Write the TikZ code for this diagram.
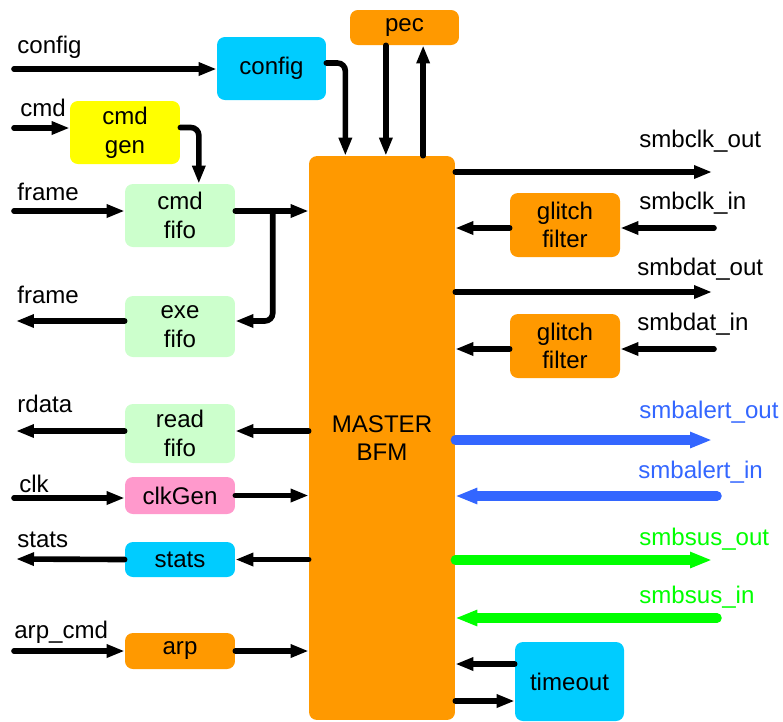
\documentclass[tikz,border=0pt]{standalone}
\usepackage{fontspec}
\setmainfont{Liberation Sans}
\usepackage{xcolor}
\usepackage{tikz}
\usetikzlibrary{arrows.meta, positioning, calc}
\definecolor{bfmorange}{HTML}{FF9900}
\definecolor{cfgcyan}{HTML}{00CCFF}
\definecolor{genyellow}{HTML}{FFFF00}
\definecolor{fifogreen}{HTML}{CCFFCC}
\definecolor{clkpink}{HTML}{FF99CC}
\definecolor{alertblue}{HTML}{3366FF}
\definecolor{susgreen}{HTML}{00FF00}
\tikzset{
  unitbox/.style={
    rectangle, rounded corners=4.5pt, align=center, inner sep=0pt,
    font=\fontsize{13.7pt}{16.3pt}\selectfont, minimum width=2.2cm
  },
  sigarrow/.style={
    -{Triangle[length=3.6mm, width=2.5mm]}, line width=3.2pt, line cap=round
  },
  busarrow/.style={
    -{Triangle[length=4.4mm, width=3mm]}, line width=5.4pt, line cap=round
  },
  siglabel/.style={
    anchor=base west, inner sep=0pt, font=\fontsize{13.7pt}{16.3pt}\selectfont
  },
}

\begin{document}
\begin{tikzpicture}[x=0.02cm, y=-0.02cm]
  \useasboundingbox (0,0) rectangle (783,721);

  % === Master BFM ===
  \node[unitbox, fill=bfmorange, minimum width=2.92cm, minimum height=11.28cm] (bfm) at (382,438) {MASTER\\BFM};

  % === Top blocks ===
  \node[unitbox, fill=bfmorange, minimum width=2.18cm, minimum height=0.7cm] (pec) at (404.5,27.5) {pec};
  \node[unitbox, fill=cfgcyan, minimum width=2.18cm, minimum height=1.26cm] (config) at (271.5,68.5) {config};
  \node[unitbox, fill=genyellow, minimum height=1.26cm] (cmdgen) at (125,132.5) {cmd\\gen};

  % === Left blocks ===
  \node[unitbox, fill=fifogreen, minimum height=1.26cm] (cmdfifo) at (180,215.5) {cmd\\fifo};
  \node[unitbox, fill=fifogreen, minimum height=1.22cm] (exefifo) at (180,326.5) {exe\\fifo};
  \node[unitbox, fill=fifogreen, minimum height=1.18cm] (readfifo) at (180,433.5) {read\\fifo};
  \node[unitbox, fill=clkpink, minimum height=0.74cm] (clkgen) at (180,495.5) {clkGen};
  \node[unitbox, fill=cfgcyan, minimum height=0.7cm] (stats) at (180,559.5) {stats};
  \node[unitbox, fill=bfmorange, minimum height=0.72cm] (arp) at (180,651) {arp};

  % === Right blocks ===
  \node[unitbox, fill=bfmorange, minimum height=1.28cm] (glitchclk) at (565,225) {glitch\\filter};
  \node[unitbox, fill=bfmorange, minimum height=1.28cm] (glitchdat) at (565,346) {glitch\\filter};
  \node[unitbox, fill=cfgcyan, minimum width=2.18cm, minimum height=1.58cm] (timeout) at (569.5,681.5) {timeout};

  % === Free ends ===
  \coordinate (cfgin) at (14,69);
  \coordinate (cmdin) at (14,128);
  \coordinate (framein) at (14,211);
  \coordinate (frameout) at (16,321);
  \coordinate (rdataout) at (16,431);
  \coordinate (clkin) at (14,498);
  \coordinate (statsout) at (16,559);
  \coordinate (arpin) at (14,651);
  \coordinate (sclkout) at (712,172);
  \coordinate (sclkin) at (714,228);
  \coordinate (sdatout) at (712,292);
  \coordinate (sdatin) at (714,349);
  \coordinate (saltout) at (712,440);
  \coordinate (saltin) at (717,496);
  \coordinate (ssusout) at (712,560);
  \coordinate (ssusin) at (717,618);

  % === Labels ===
  \node[siglabel] (lblconfig) at (17,53) {config};
  \node[siglabel] (lblcmd) at (20,116) {cmd};
  \node[siglabel] (lblframein) at (17,200) {frame};
  \node[siglabel] (lblframeout) at (17,303) {frame};
  \node[siglabel] (lblrdata) at (17,412) {rdata};
  \node[siglabel] (lblclk) at (19,492) {clk};
  \node[siglabel] (lblstats) at (17,547) {stats};
  \node[siglabel] (lblarp) at (14,638) {arp\_cmd};
  \node[siglabel] (lblsclkout) at (639,147) {smbclk\_out};
  \node[siglabel] (lblsclkin) at (639,209) {smbclk\_in};
  \node[siglabel] (lblsdatout) at (637,275) {smbdat\_out};
  \node[siglabel] (lblsdatin) at (637,330) {smbdat\_in};
  \node[siglabel, text=alertblue] (lblsaltout) at (639,418) {smbalert\_out};
  \node[siglabel, text=alertblue] (lblsaltin) at (638,478) {smbalert\_in};
  \node[siglabel, text=susgreen] (lblssusout) at (639,545) {smbsus\_out};
  \node[siglabel, text=susgreen] (lblssusin) at (639,603) {smbsus\_in};

  % === Top connections ===
  \coordinate (cfgdrop) at ($(bfm.north west)!0.25!(bfm.north east)$);
  \coordinate (pecdown) at ($(pec.south west)!0.33!(pec.south east)$);
  \coordinate (pecup) at ($(pec.south west)!0.67!(pec.south east)$);
  \draw[sigarrow] (cfgin) -- (config.west |- cfgin);
  \draw[sigarrow, rounded corners=4.5pt] ([yshift=0.11cm]config.east) -| (cfgdrop);
  \draw[sigarrow] (pecdown) -- (pecdown |- bfm.north);
  \draw[sigarrow] (pecup |- bfm.north) -- (pecup);
  \draw[sigarrow] (cmdin) -- (cmdgen.west |- cmdin);
  \draw[sigarrow, rounded corners=4.5pt] ([yshift=0.1cm]cmdgen.east) -| ($(cmdfifo.north west)!0.67!(cmdfifo.north east)$);

  % === Left connections ===
  \draw[sigarrow] (framein) -- (cmdfifo.west |- framein);
  \draw[sigarrow] (cmdfifo.east |- framein) -- (bfm.west |- framein);
  \coordinate (split) at ($(cmdfifo.east |- framein)!0.51!(bfm.west |- framein)$);
  \draw[sigarrow, rounded corners=4.5pt] (split) |- (exefifo.east |- frameout);
  \draw[sigarrow] (exefifo.west |- frameout) -- (frameout);
  \draw[sigarrow] (bfm.west |- rdataout) -- (readfifo.east |- rdataout);
  \draw[sigarrow] (readfifo.west |- rdataout) -- (rdataout);
  \draw[sigarrow] (clkin) -- (clkgen.west |- clkin);
  \draw[sigarrow] (clkgen.east) -- (bfm.west |- clkgen.east);
  \draw[sigarrow] (bfm.west |- stats.east) -- (stats.east);
  \draw[sigarrow] (stats.west) -- (statsout);
  \draw[sigarrow] (arpin) -- (arp.west);
  \draw[sigarrow] (arp.east) -- (bfm.west |- arp.east);

  % === Right connections ===
  \draw[sigarrow] (bfm.east |- sclkout) -- (sclkout);
  \draw[sigarrow] (sclkin) -- (glitchclk.east |- sclkin);
  \draw[sigarrow] (glitchclk.west |- sclkin) -- (bfm.east |- sclkin);
  \draw[sigarrow] (bfm.east |- sdatout) -- (sdatout);
  \draw[sigarrow] (sdatin) -- (glitchdat.east |- sdatin);
  \draw[sigarrow] (glitchdat.west |- sdatin) -- (bfm.east |- sdatin);
  \draw[busarrow, alertblue] (bfm.east |- saltout) -- (saltout);
  \draw[busarrow, alertblue] (saltin) -- (bfm.east |- saltin);
  \draw[busarrow, susgreen] (bfm.east |- ssusout) -- (ssusout);
  \draw[busarrow, susgreen] (ssusin) -- (bfm.east |- ssusin);

  % === Timeout ===
  \coordinate (tofrom) at ([yshift=0.35cm]timeout.west);
  \coordinate (toto) at ([yshift=-0.39cm]timeout.west);
  \draw[sigarrow] (tofrom) -- (bfm.east |- tofrom);
  \draw[sigarrow] (bfm.east |- toto) -- (toto);

\end{tikzpicture}
\end{document}
